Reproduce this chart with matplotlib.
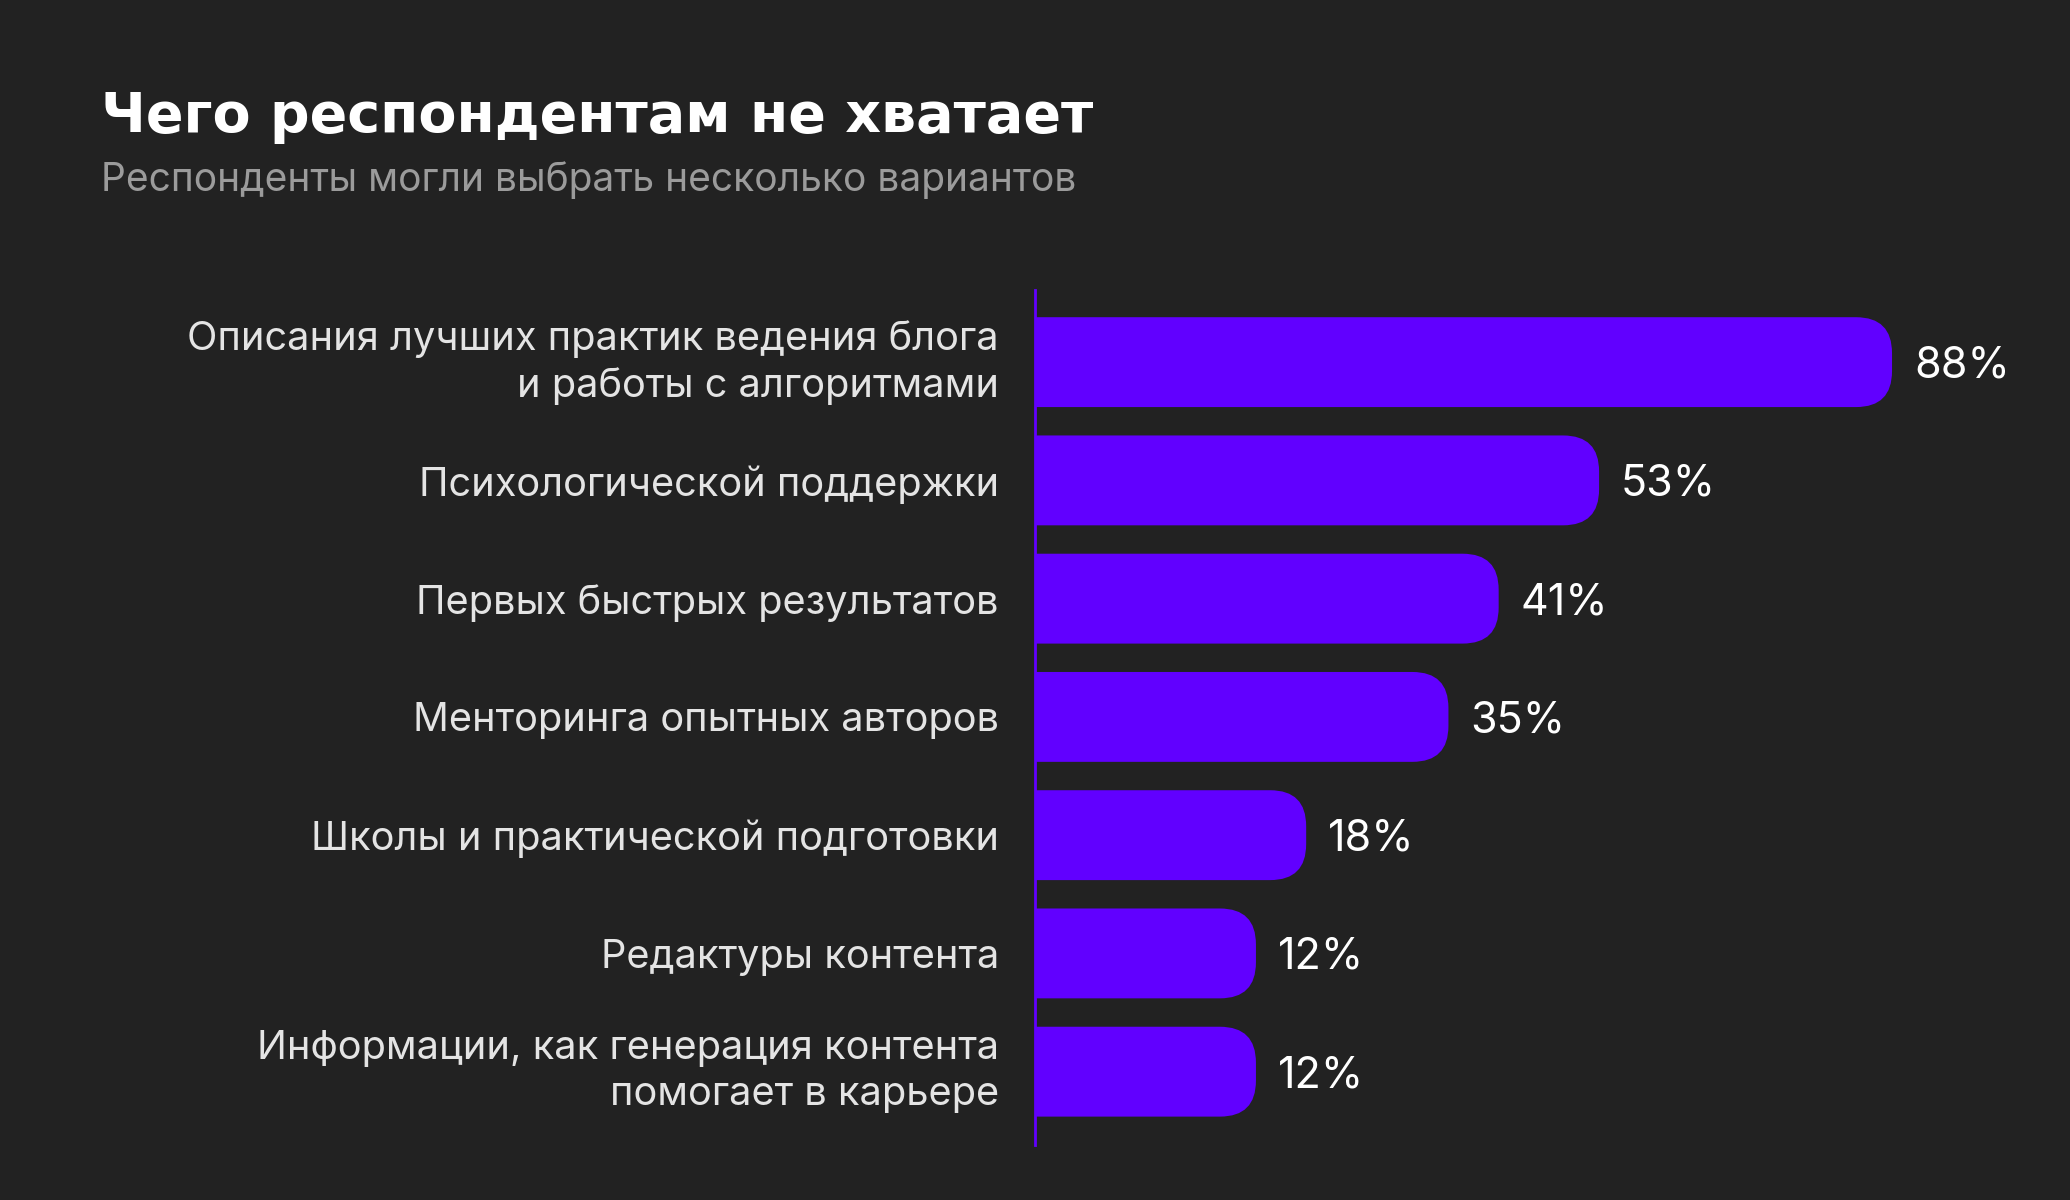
import matplotlib.pyplot as plt
from matplotlib.patches import FancyBboxPatch

# данные
categories = [
    'Описания лучших практик ведения блога\nи работы с алгоритмами',
    'Психологической поддержки',
    'Первых быстрых результатов',
    'Менторинга опытных авторов',
    'Школы и практической подготовки',
    'Редактуры контента',
    'Информации, как генерация контента\nпомогает в карьере',
]
values = [88, 53, 41, 35, 18, 12, 12]
value_labels = ['88%', '53%', '41%', '35%', '18%', '12%', '12%']

title = 'Чего респондентам не хватает'
subtitle = 'Респонденты могли выбрать несколько вариантов'

BG = '#222222'
BAR = '#6100FF'

W, H = 2070, 1200
fig = plt.figure(figsize=(W / 100, H / 100), dpi=100, facecolor=BG)

# оси: левая граница = фиолетовая линия
ax_left, ax_right = 1035, 2000
ax_top, ax_bottom = 290, 1145
ax = fig.add_axes([ax_left / W, 1 - ax_bottom / H,
                   (ax_right - ax_left) / W, (ax_bottom - ax_top) / H])
ax.set_facecolor(BG)

x_min, x_max = -14.4, 100.9
n = len(values)
ax.set_xlim(x_min, x_max)
ax.set_ylim(n - 1 + 0.62, -0.61)

px_x = (ax_right - ax_left) / (x_max - x_min)   # пикселей на 1%
px_y = (ax_bottom - ax_top) / (n - 1 + 0.62 + 0.61)  # пикселей на строку
radius_px = 36
r_x = radius_px / px_x
r_y = radius_px / px_y
bar_h = 0.76

for i, (v, lab) in enumerate(zip(values, value_labels)):
    left = x_min - r_x  # левые скругления уходят за границу осей
    p = FancyBboxPatch((left, i - bar_h / 2), v - left, bar_h,
                       boxstyle=f'round,pad=0,rounding_size={r_x}',
                       mutation_aspect=r_y / r_x,
                       facecolor=BAR, edgecolor='none', clip_on=True)
    ax.add_patch(p)
    ax.text(v + 22 / px_x, i + 15.5 / px_y, lab, color='white', fontsize=31,
            family='Inter', va='baseline', ha='left')

ax.set_yticks(range(n))
ax.set_yticklabels(categories, fontsize=28.6, family='Inter', color='#e4e4e4',
                   linespacing=1.3)
# двухстрочные подписи центрируем по блоку
for t in ax.get_yticklabels():
    if '\n' in t.get_text():
        t.set_va('center')
ax.tick_params(axis='y', length=0, pad=26)
ax.set_xticks([])
for s in ['top', 'right', 'bottom']:
    ax.spines[s].set_visible(False)
ax.spines['left'].set_color(BAR)
ax.spines['left'].set_linewidth(2)

fig.text(101 / W, 1 - 132 / H, title, fontsize=40, fontweight='bold',
         family='DejaVu Sans', color='white', ha='left', va='baseline')
fig.text(101 / W, 1 - 191 / H, subtitle, fontsize=28, family='Inter',
         color='#9b9b9b', ha='left', va='baseline')

fig.savefig('out.png', dpi=100, facecolor=BG)
